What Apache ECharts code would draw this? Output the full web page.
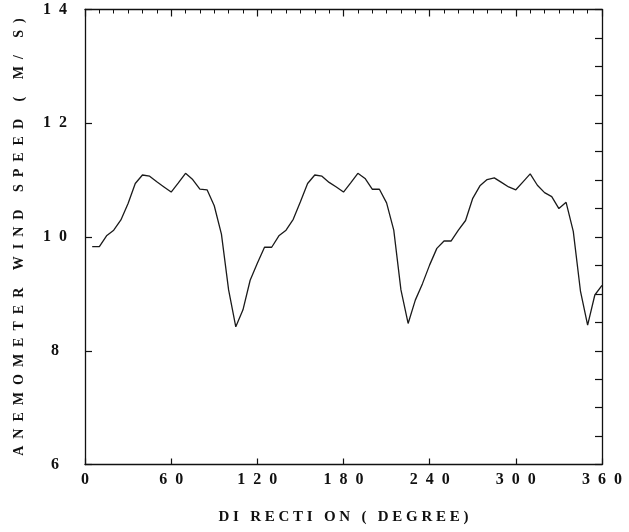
<!DOCTYPE html>
<html>
<head>
<meta charset="utf-8">
<script src="https://cdn.jsdelivr.net/npm/echarts@6/dist/echarts.min.js"></script>
<style>
html,body{margin:0;padding:0;background:#fff;}
#chart{width:629px;height:532px;}
</style>
</head>
<body>
<div id="chart"></div>
<script>
// Data
const directions = [5,10,15,20,25,30,35,40,45,50,55,60,65,70,75,80,85,90,95,100,105,110,115,120,
  125,130,135,140,145,150,155,160,165,170,175,180,185,190,195,200,205,210,215,220,225,230,235,240,
  245,250,255,260,265,270,275,280,285,290,295,300,305,310,315,320,325,330,335,340,345,350,355,360];
const windSpeed = [9.83,9.83,10.02,10.12,10.30,10.59,10.94,11.09,11.07,10.97,10.88,10.79,10.95,11.12,11.01,10.84,10.83,10.55,10.05,9.07,8.42,8.72,9.24,9.54,
  9.82,9.82,10.02,10.12,10.31,10.62,10.94,11.09,11.07,10.96,10.88,10.79,10.95,11.12,11.03,10.84,10.84,10.60,10.12,9.07,8.48,8.89,9.18,9.51,
  9.80,9.93,9.93,10.12,10.29,10.68,10.90,11.01,11.04,10.96,10.88,10.83,10.97,11.11,10.91,10.78,10.71,10.50,10.61,10.10,9.05,8.45,8.98,9.15];
const xTicks = [0,60,120,180,240,300,360];
const yTicks = [6,8,10,12,14];
const xTitleWords = ['DI', 'RECTI', 'ON', '(', 'DEGREE)'];
const yTitleWords = ['ANEMOMETER', 'WIND', 'SPEED', '(', 'M/', 'S)'];

const font = '"Liberation Serif", "DejaVu Serif", serif';
const ink = '#111';
const EN = '\u2002';
const spaced = v => String(v).split('').join(EN);
const xTitle = xTitleWords.map(w => w.split('').join(' ')).join('   ');
const yTitle = yTitleWords.map(w => w.split('').join(EN)).join(EN + EN + ' ');

const chart = echarts.init(document.getElementById('chart'), null, {renderer: 'canvas'});
chart.setOption({
  animation: false,
  backgroundColor: '#fff',
  grid: {left: 85, right: 27, top: 9.5, bottom: 67.5, containLabel: false, outerBoundsMode: 'none'},
  xAxis: [
    {
      type: 'value', position: 'bottom',
      min: xTicks[0], max: xTicks[xTicks.length - 1], interval: 60,
      axisLine: {show: true, onZero: false, lineStyle: {color: ink, width: 1.3}},
      axisTick: {show: true, inside: true, length: 6, lineStyle: {color: ink, width: 1.2}},
      axisLabel: {show: true, margin: 7, formatter: spaced, fontFamily: font, fontSize: 16, fontWeight: 'bold', color: ink},
      splitLine: {show: false},
      name: xTitle, nameLocation: 'middle', nameGap: 45,
      nameTextStyle: {fontFamily: font, fontSize: 15, fontWeight: 'bold', color: ink}
    },
    {
      type: 'value', position: 'top',
      min: xTicks[0], max: xTicks[xTicks.length - 1], interval: 60,
      axisLine: {show: true, onZero: false, lineStyle: {color: ink, width: 1.3}},
      axisTick: {show: true, inside: true, length: 7, lineStyle: {color: ink, width: 1.2}},
      minorTick: {show: true, splitNumber: 6, length: 4, lineStyle: {color: ink, width: 1}},
      axisLabel: {show: false},
      splitLine: {show: false}
    }
  ],
  yAxis: [
    {
      type: 'value', position: 'left',
      min: yTicks[0], max: yTicks[yTicks.length - 1], interval: 2,
      axisLine: {show: true, onZero: false, lineStyle: {color: ink, width: 1.3}},
      axisTick: {show: true, inside: true, length: 7, lineStyle: {color: ink, width: 1.2}},
      axisLabel: {show: true, margin: 30, align: 'center', formatter: spaced, fontFamily: font, fontSize: 16, fontWeight: 'bold', color: ink},
      splitLine: {show: false},
      name: yTitle, nameLocation: 'middle', nameGap: 59, nameRotate: 90,
      nameTextStyle: {fontFamily: font, fontSize: 14, fontWeight: 'bold', color: ink}
    },
    {
      type: 'value', position: 'right',
      min: yTicks[0], max: yTicks[yTicks.length - 1], interval: 0.5,
      axisLine: {show: true, onZero: false, lineStyle: {color: ink, width: 1.3}},
      axisTick: {show: true, inside: true, length: 7, lineStyle: {color: ink, width: 1.2}},
      axisLabel: {show: false},
      splitLine: {show: false}
    }
  ],
  series: [{
    type: 'line',
    xAxisIndex: 0, yAxisIndex: 0,
    data: directions.map((d, i) => [d, windSpeed[i]]),
    showSymbol: false, symbol: 'none',
    lineStyle: {color: '#1a1a1a', width: 1.3},
    silent: true
  }]
});
</script>
</body>
</html>
